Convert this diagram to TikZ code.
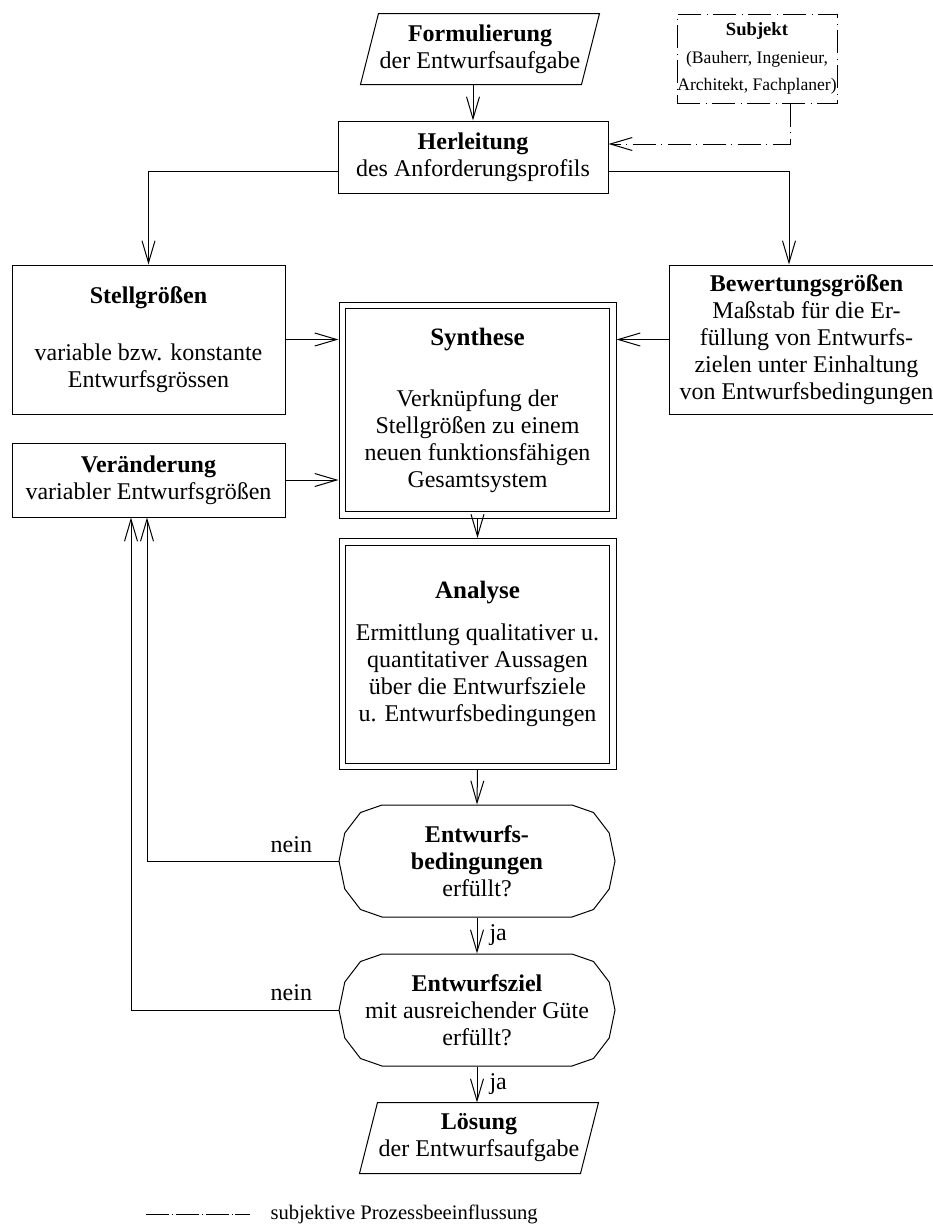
\documentclass[tikz,border=0pt]{standalone}
\usepackage{fontspec}
\setmainfont{Liberation Serif}
\usetikzlibrary{arrows.meta,calc}
\begin{document}
\begin{tikzpicture}[x=0.5pt,y=-0.5pt,
  line width=0.5pt,
  every node/.style={font=\fontsize{12pt}{13.5pt}\selectfont, inner sep=0pt, align=center},
  box/.style={draw, rectangle},
  arr/.style={-{Straight Barb[length=11pt,width=6.5pt]}},
  dashdot/.style={dash pattern=on 11.5pt off 2.75pt on 0.5pt off 2.75pt},
  legendline/.style={dash pattern=on 11.5pt off 1.5pt on 0.4pt off 1.5pt},
  small/.style={font=\fontsize{8.8pt}{13.75pt}\selectfont},
]
\useasboundingbox[fill=white] (0,0) rectangle (933,1228);

% input and output of the process
\node (F) [minimum width=110pt, minimum height=35pt] at (480,49)
  {\textbf{Formulierung}\\der Entwurfsaufgabe};
\node (L) [minimum width=110pt, minimum height=35pt] at (479,1138)
  {\textbf{Lösung}\\der Entwurfsaufgabe};
\foreach \n in {F,L}
  \draw ([xshift=4.5pt]\n.north west) -- ([xshift=4.5pt]\n.north east)
     -- ([xshift=-4.5pt]\n.south east) -- ([xshift=-4.5pt]\n.south west) -- cycle;

% subject
\node (S) [draw, dashdot, small, minimum width=80pt, minimum height=44.5pt] at (757,58.5)
  {{\fontsize{9.3pt}{13.75pt}\selectfont\bfseries Subjekt}\\(Bauherr, Ingenieur,\\Architekt, Fachplaner)};

% process boxes
\node (H) [box, minimum width=135pt, minimum height=36pt] at (473,157)
  {\textbf{Herleitung}\\des Anforderungsprofils};
\node (St) [box, minimum width=136.5pt, minimum height=74.5pt] at (148.5,339.5)
  {\textbf{Stellgrößen}\\[15pt]variable bzw. konstante\\Entwurfsgrössen};
\node (B) [box, minimum width=137.5pt, minimum height=74.5pt] at (806.5,339.5)
  {\textbf{Bewertungsgrößen}\\Maßstab für die Er-\\füllung von Entwurfs-\\zielen unter Einhaltung\\von Entwurfsbedingungen};
\node (V) [box, minimum width=136.5pt, minimum height=37pt] at (148.5,480)
  {\textbf{Veränderung}\\variabler Entwurfsgrößen};
\node (Sy) [box, minimum width=138.5pt, minimum height=108pt] at (477.5,410)
  {{\fontsize{12.5pt}{13.5pt}\selectfont\bfseries Synthese}\\[17pt]Verknüpfung der\\Stellgrößen zu einem\\neuen funktionsfähigen\\Gesamtsystem};
\node (An) [box, minimum width=138.5pt, minimum height=115.5pt] at (477.5,654)
  {{\fontsize{12.5pt}{13.5pt}\selectfont\bfseries Analyse}\\[7.5pt]Ermittlung qualitativer u.\\quantitativer Aussagen\\über die Entwurfsziele\\u. Entwurfsbedingungen};
\foreach \n in {Sy,An}
  \draw ($(\n.north west)+(7,7)$) rectangle ($(\n.south east)+(-7,-7)$);

% decisions
\node (D1) [minimum width=138pt, minimum height=56pt] at (477,861)
  {\textbf{Entwurfs-}\\\textbf{bedingungen}\\erfüllt?};
\node (D2) [minimum width=138pt, minimum height=56pt] at (477,1010)
  {\textbf{Entwurfsziel}\\mit ausreichender Güte\\erfüllt?};
\foreach \n in {D1,D2}
  \draw[shift={(\n.center)}] (-95,-56) -- (-116.5,-48.5) -- (-132.2,-28) -- (-138,0)
     -- (-132.2,28) -- (-116.5,48.5) -- (-95,56) -- (95,56) -- (116.5,48.5)
     -- (132.2,28) -- (138,0) -- (132.2,-28) -- (116.5,-48.5) -- (95,-56) -- cycle;

% connectors
\draw[arr] (F.south -| H.north) -- (H.north);
\draw[arr, dashdot] ([xshift=16.5pt]S.south) |- ([yshift=6.5pt]H.east);
\draw[arr] ([yshift=-7pt]H.west) -| (St.north);
\draw[arr] ([yshift=-7pt]H.east) -| ([xshift=-8.75pt]B.north);
\draw[arr] (St.east) -- (St.east -| Sy.west);
\draw[arr] (B.west) -- (B.west -| Sy.east);
\draw[arr] (V.east) -- (V.east -| Sy.west);
\draw[arr] (Sy.south) -- (An.north);
\draw[arr] (An.south) -- (D1.north);
\draw[arr] (D1.south) -- node[right=6pt] (j1) {ja} (D2.north);
\draw[arr] (D2.south) -- node[right=6pt] (j2) {ja} (D2.south |- L.north);
\draw[arr] (D1.west) -| ([xshift=-0.75pt]V.south);
\draw[arr] (D2.west) -| ([xshift=-8.75pt]V.south);
\node (n1) [anchor=base east] at ([xshift=-13pt,yshift=4.5pt]D1.west) {nein};
\node (n2) [anchor=base east] at ([xshift=-13pt,yshift=5pt]D2.west) {nein};

% legend
\coordinate (lg1) at (146,1214);
\coordinate (lg2) at (250,1214);
\draw[legendline] (lg1) -- (lg2);
\node (lgt) [anchor=base west, font=\fontsize{10.3pt}{12pt}\selectfont] at (270,1219)
  {subjektive Prozessbeeinflussung};
\end{tikzpicture}
\end{document}
